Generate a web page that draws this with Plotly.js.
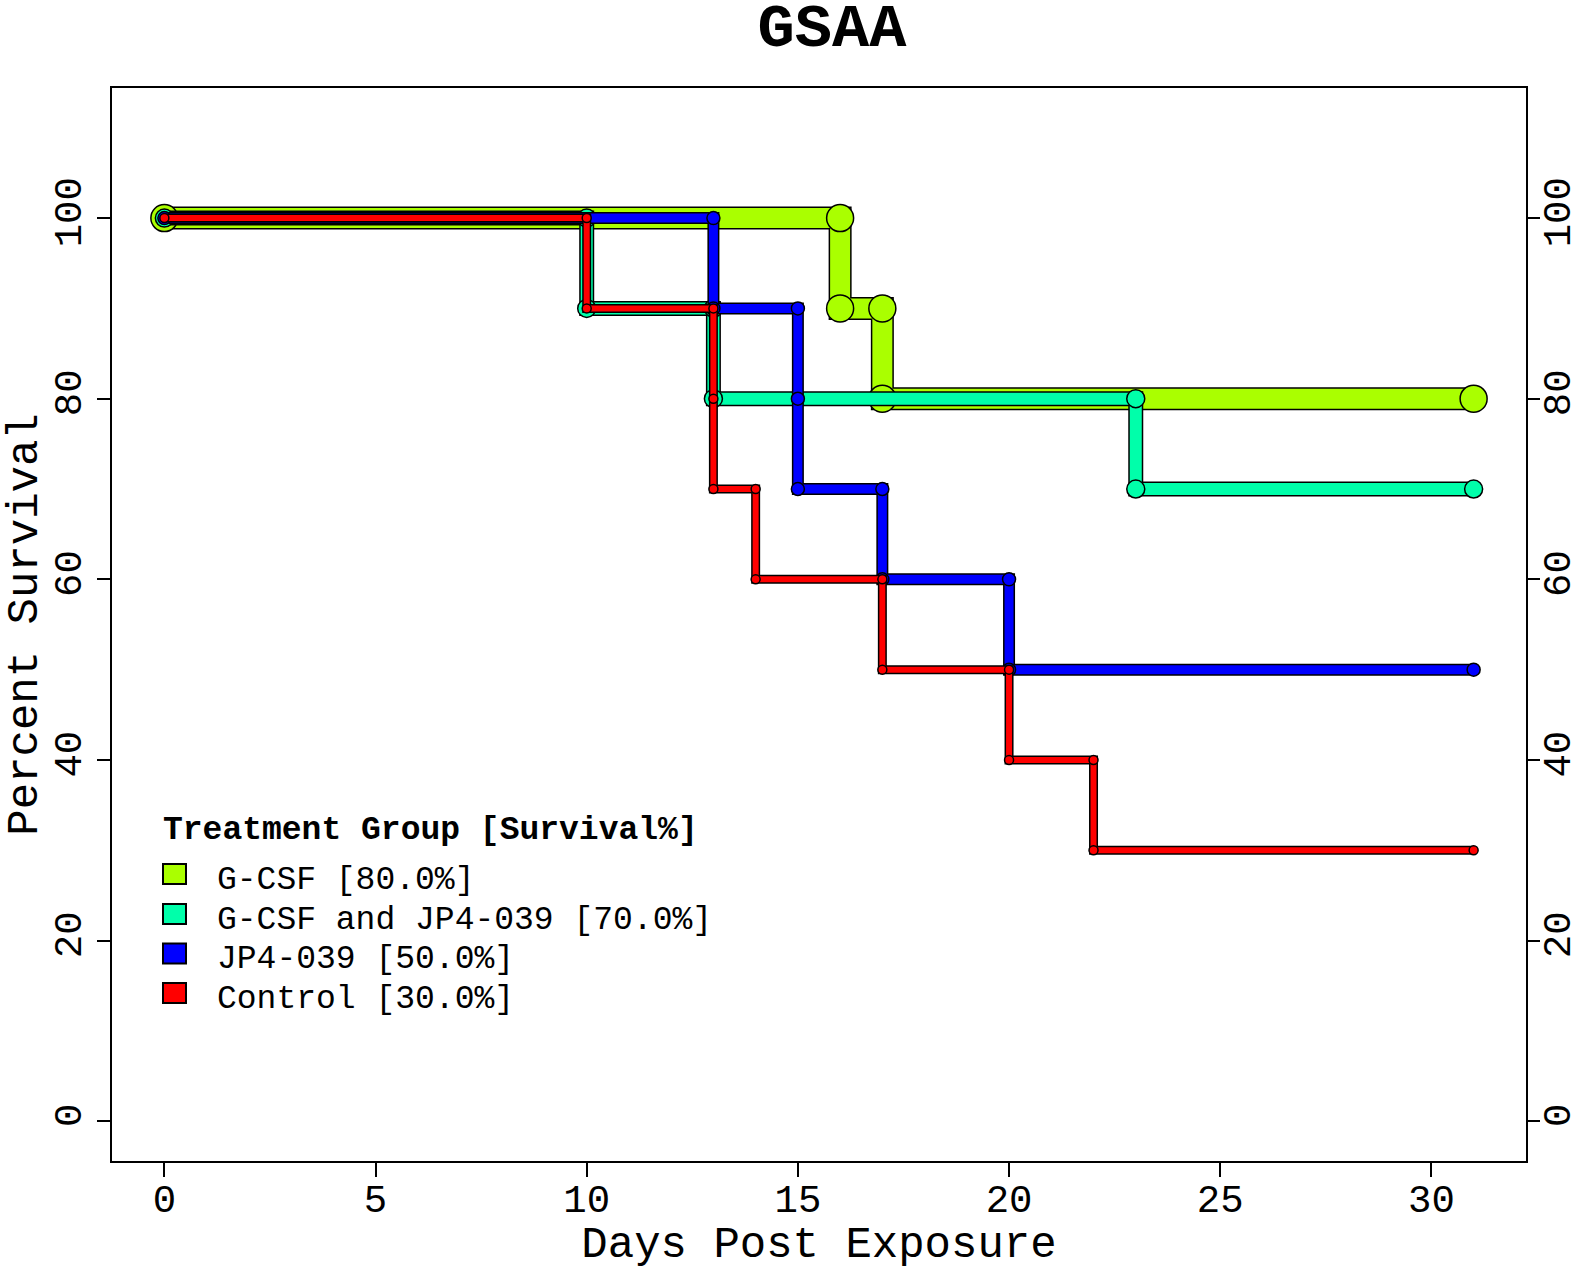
<!DOCTYPE html>
<html>
<head>
<meta charset="utf-8">
<script src="https://cdn.plot.ly/plotly-3.0.1.min.js"></script>
<style>html,body{margin:0;padding:0;background:#fff;}#chart{width:1575px;height:1270px;}</style>
</head>
<body>
<div id="chart"></div>
<script>
// ---- data (vertices of each Kaplan-Meier step curve) ----
var groupNames = ["G-CSF", "G-CSF and JP4-039", "JP4-039", "Control"];
var finalSurvival = [80.0, 70.0, 50.0, 30.0];
var groupColors = ["#AAFF00", "#00FFAA", "#0000FF", "#FF0000"];

var gcsfDays = [0, 16, 16, 17, 17, 31];
var gcsfSurv = [100, 100, 90, 90, 80, 80];

var comboDays = [0, 10, 10, 13, 13, 23, 23, 31];
var comboSurv = [100, 100, 90, 90, 80, 80, 70, 70];

var jp4Days = [0, 13, 13, 15, 15, 15, 17, 17, 20, 20, 31];
var jp4Surv = [100, 100, 90, 90, 80, 70, 70, 60, 60, 50, 50];

var ctrlDays = [0, 10, 10, 13, 13, 13, 14, 14, 17, 17, 20, 20, 22, 22, 31];
var ctrlSurv = [100, 100, 90, 90, 80, 70, 70, 60, 60, 50, 50, 40, 40, 30, 30];

var xTicks = [0, 5, 10, 15, 20, 25, 30];
var yTicks = [0, 20, 40, 60, 80, 100];

// ---- styling ----
var FONT = "Liberation Mono, Courier New, monospace";
var lineW = [20, 12, 9, 6];
var markW = [27, 18, 13, 9];
var seriesX = [gcsfDays, comboDays, jp4Days, ctrlDays];
var seriesY = [gcsfSurv, comboSurv, jp4Surv, ctrlSurv];

var traces = [];
for (var i = 0; i < groupNames.length; i++) {
  traces.push({
    x: seriesX[i], y: seriesY[i], type: "scatter", mode: "lines",
    line: {color: "#000", width: lineW[i] + 3},
    hoverinfo: "skip", showlegend: false
  });
  traces.push({
    x: seriesX[i], y: seriesY[i], type: "scatter", mode: "lines+markers",
    name: groupNames[i],
    line: {color: groupColors[i], width: lineW[i]},
    marker: {symbol: "circle", size: markW[i], color: groupColors[i], line: {color: "#000", width: 1.5}},
    showlegend: false
  });
}
// invisible trace to drive right y-axis
traces.push({x: [0], y: [0], yaxis: "y2", type: "scatter", mode: "markers",
  marker: {opacity: 0}, hoverinfo: "skip", showlegend: false});

// ---- pixel helpers for legend placement ----
var L = 112, R = 1526, T = 88, B = 1161;
function PX(px) { return (px - L) / (R - L); }
function PY(py) { return (B - py) / (B - T); }

var shapes = [];
var annotations = [];
annotations.push({
  xref: "paper", yref: "paper", x: PX(161), y: PY(831), xanchor: "left", yanchor: "middle",
  text: "<b>Treatment Group [Survival%]</b>", showarrow: false,
  font: {family: FONT, size: 33, color: "#000"}
});
var rowY = [874, 914, 953.5, 993];
for (var k = 0; k < groupNames.length; k++) {
  shapes.push({
    type: "rect", xref: "paper", yref: "paper",
    x0: PX(163), x1: PX(186), y0: PY(rowY[k] + 10), y1: PY(rowY[k] - 10),
    fillcolor: groupColors[k], line: {color: "#000", width: 2}
  });
  annotations.push({
    xref: "paper", yref: "paper", x: PX(215), y: PY(rowY[k] + 6), xanchor: "left", yanchor: "middle",
    text: groupNames[k] + " [" + finalSurvival[k].toFixed(1) + "%]", showarrow: false,
    font: {family: FONT, size: 33, color: "#000"}
  });
}

var tickFont = {family: FONT, size: 39, color: "#000"};
var layout = {
  width: 1575, height: 1270,
  margin: {l: L, r: 1575 - R, t: T, b: 1270 - B, pad: 0},
  paper_bgcolor: "#fff", plot_bgcolor: "#fff",
  title: {text: "<b>GSAA</b>", font: {family: FONT, size: 62, color: "#000"},
    x: PX(832), xref: "paper", xanchor: "center", y: 1 - 24 / 1270, yref: "container", yanchor: "middle"},
  xaxis: {
    range: [-1.24, 32.24], tickvals: xTicks, ticktext: xTicks.map(String),
    ticks: "outside", ticklen: 14, tickwidth: 2, tickcolor: "#000",
    ticklabelstandoff: -12,
    showline: true, linecolor: "#000", linewidth: 2, mirror: true,
    showgrid: false, zeroline: false, tickfont: tickFont,
    title: {text: "Days Post Exposure", font: {family: FONT, size: 44, color: "#000"}, standoff: 30}
  },
  yaxis: {
    range: [-4.4, 114.4], tickvals: yTicks, ticktext: yTicks.map(String),
    ticks: "outside", ticklen: 13, tickwidth: 2, tickcolor: "#000", tickangle: -90,
    showline: true, linecolor: "#000", linewidth: 2, mirror: true,
    showgrid: false, zeroline: false, tickfont: tickFont,
    title: {text: "Percent Survival", font: {family: FONT, size: 44, color: "#000"}, standoff: 22}
  },
  yaxis2: {
    overlaying: "y", side: "right", anchor: "x",
    range: [-4.4, 114.4], tickvals: yTicks, ticktext: yTicks.map(String),
    ticks: "outside", ticklen: 13, tickwidth: 2, tickcolor: "#000", tickangle: -90,
    ticklabelstandoff: -17,
    showline: false, showgrid: false, zeroline: false, tickfont: tickFont
  },
  shapes: shapes,
  annotations: annotations,
  showlegend: false
};

Plotly.newPlot("chart", traces, layout, {staticPlot: true, displayModeBar: false});
</script>
</body>
</html>
